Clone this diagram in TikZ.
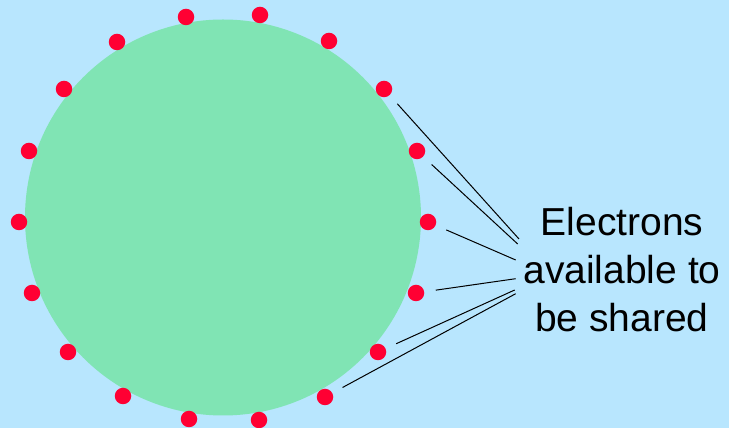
\documentclass[tikz,border=0pt]{standalone}
\usepackage{fontspec}
\setmainfont{Liberation Sans}
\definecolor{skyblue}{RGB}{184,230,254}
\definecolor{atomgreen}{RGB}{128,228,180}
\definecolor{electronred}{RGB}{255,0,51}
\begin{document}
\begin{tikzpicture}[x=1pt,y=1pt,
  electron/.style={circle,fill=electronred,inner sep=0pt,minimum size=16.5pt},
  pointer/.style={black,line width=1pt,shorten <=11.5pt}]
\fill[skyblue] (0,0) rectangle (729,428);
\useasboundingbox (0,0) rectangle (729,428);
\fill[atomgreen] (223,210.5) circle (198);
\foreach \a/\x/\y in {0/428/206,20/417/277,40/384/339,60/329/387,80/260/413,
    100/186/411,120/117/386,140/64/339,160/29/277,180/19/206,200/32/135,
    220/68/76,240/123/32,260/189/9,280/259/8,300/325/31,320/378/76,340/416/135}
  \node[electron] (d\a) at (\x,\y) {};
\node[align=center,font=\fontsize{39}{48}\selectfont] (lbl) at (622,158) {Electrons\\available to\\be shared};
\coordinate (e1) at (519,189);
\coordinate (e2) at (517.7,184);
\coordinate (e3) at (515.7,168);
\coordinate (e4) at (515.7,149.3);
\coordinate (e5) at (514.7,138);
\coordinate (e6) at (515.7,134.3);
\draw[pointer] (d40) -- (e1);
\draw[pointer] (d20) -- (e2);
\draw[pointer] (d0) -- (e3);
\draw[pointer] (d340) -- (e4);
\draw[pointer] (d320) -- (e5);
\draw[pointer] (d300) -- (e6);
\end{tikzpicture}
\end{document}
